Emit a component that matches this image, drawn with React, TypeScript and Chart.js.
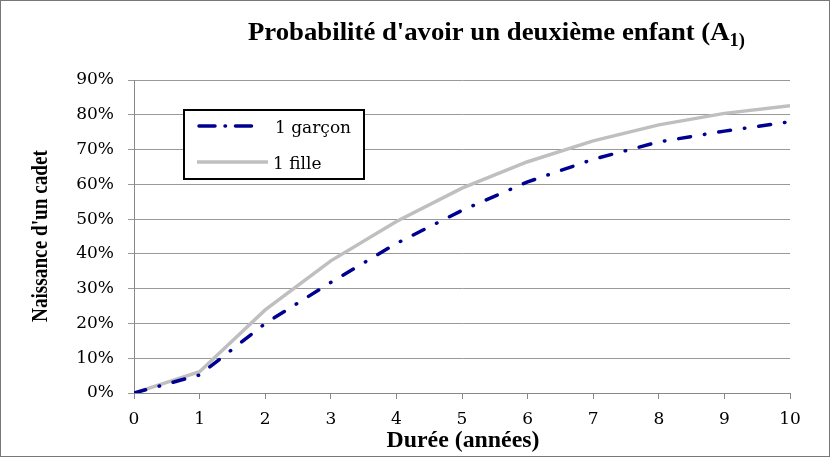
import React, { useEffect, useRef } from "react";
import { Chart, registerables } from "chart.js";

Chart.register(...registerables);

const years = [0, 1, 2, 3, 4, 5, 6, 7, 8, 9, 10];
const garcon = [0, 5.2, 20, 31.8, 43, 52.5, 60.7, 67.2, 72.2, 75.3, 78];
const fille = [0, 6.1, 23.9, 38, 49.3, 58.9, 66.5, 72.5, 77.1, 80.4, 82.6];
const titleMain = "Probabilité d'avoir un deuxième enfant (A";
const titleSub = "1)";
const xTitle = "Durée (années)";
const yTitle = "Naissance d'un cadet";
const seriesNames = ["1 garçon", "1 fille"];

const SERIF = "'Liberation Serif', 'Times New Roman', serif";
const TICKF = "'DejaVu Serif', serif";
const NAVY = "#000090";
const GREY = "#bfbfbf";

function condensedText(ctx: any, text: string, font: string, cx: number, baseY: number, targetW: number) {
  ctx.font = font;
  const w = ctx.measureText(text).width;
  const sx = targetW / w;
  ctx.save();
  ctx.translate(cx, baseY);
  ctx.scale(sx, 1);
  ctx.textAlign = "center";
  ctx.textBaseline = "alphabetic";
  ctx.fillText(text, 0, 0);
  ctx.restore();
}

const overlay = {
  id: "overlay",
  afterDraw(chart: any) {
    const ctx = chart.ctx;
    ctx.save();
    ctx.strokeStyle = "#777";
    ctx.lineWidth = 1;
    ctx.strokeRect(0.5, 0.5, chart.width - 1, chart.height - 1);
    ctx.fillStyle = "#000";
    ctx.font = `bold 26px ${SERIF}`;
    const w1 = ctx.measureText(titleMain).width;
    ctx.font = `bold 18px ${SERIF}`;
    const w2 = ctx.measureText(titleSub).width;
    const total = w1 + w2;
    const target = 497;
    const sx = target / total;
    ctx.save();
    ctx.translate(248, 40);
    ctx.scale(sx, 1);
    ctx.textAlign = "left";
    ctx.textBaseline = "alphabetic";
    ctx.font = `bold 26px ${SERIF}`;
    ctx.fillText(titleMain, 0, 0);
    ctx.font = `bold 18px ${SERIF}`;
    ctx.fillText(titleSub, w1, 6);
    ctx.restore();
    condensedText(ctx, xTitle, `bold 24px ${SERIF}`, 463, 447, 153);
    ctx.save();
    ctx.translate(47, 236);
    ctx.rotate(-Math.PI / 2);
    condensedText(ctx, yTitle, `bold 24px ${SERIF}`, 0, 0, 172);
    ctx.restore();
    const lx = 184, ly = 110, lw = 180, lh = 69;
    ctx.fillStyle = "#fff";
    ctx.fillRect(lx, ly, lw, lh);
    ctx.strokeStyle = "#000";
    ctx.lineWidth = 2;
    ctx.strokeRect(lx, ly, lw, lh);
    ctx.lineWidth = 3.5;
    ctx.strokeStyle = NAVY;
    ctx.lineCap = "round";
    ctx.setLineDash([16, 10, 0.5, 10]);
    ctx.beginPath();
    ctx.moveTo(199, 126);
    ctx.lineTo(254, 126);
    ctx.stroke();
    ctx.setLineDash([]);
    ctx.lineCap = "butt";
    ctx.strokeStyle = GREY;
    ctx.beginPath();
    ctx.moveTo(197, 162);
    ctx.lineTo(268, 162);
    ctx.stroke();
    ctx.fillStyle = "#000";
    ctx.font = `17px ${TICKF}`;
    ctx.textAlign = "left";
    ctx.textBaseline = "alphabetic";
    ctx.fillText(seriesNames[0], 275, 133);
    ctx.fillText(seriesNames[1], 273, 169);
    ctx.restore();
  },
};

export default function App() {
  const ref = useRef<HTMLCanvasElement>(null);
  useEffect(() => {
    document.body.style.margin = "0";
    const chart = new Chart(ref.current!, {
      type: "line",
      data: {
        labels: years,
        datasets: [
          {
            label: seriesNames[0],
            data: garcon,
            borderColor: NAVY,
            borderWidth: 3.5,
            borderDash: [12, 14, 0.5, 14],
            borderCapStyle: "round",
            pointRadius: 0,
            tension: 0,
          },
          {
            label: seriesNames[1],
            data: fille,
            borderColor: GREY,
            borderWidth: 3.5,
            pointRadius: 0,
            tension: 0,
          },
        ],
      },
      options: {
        animation: false,
        responsive: false,
        layout: { padding: { left: 0, right: 40, top: 80, bottom: 0 } },
        plugins: { legend: { display: false }, tooltip: { enabled: false }, title: { display: false } },
        scales: {
          x: {
            type: "linear",
            min: 0,
            max: 10,
            afterFit: (s: any) => { s.height = 64; },
            ticks: { stepSize: 1, color: "#000", font: { family: TICKF, size: 17 }, padding: 10, maxRotation: 0 },
            grid: { display: true, drawOnChartArea: false, drawTicks: true, tickLength: 6, color: "#888" },
            border: { color: "#888" },
          },
          y: {
            min: 0,
            max: 90,
            afterFit: (s: any) => { s.width = 134; },
            ticks: { stepSize: 10, color: "#000", font: { family: TICKF, size: 17 }, padding: 14, callback: (v: any) => v + "%" },
            grid: { color: "#999", tickLength: 6 },
            border: { color: "#888" },
          },
        },
      },
      plugins: [overlay],
    });
    return () => chart.destroy();
  }, []);
  return <canvas ref={ref} width={830} height={457} style={{ display: "block" }} />;
}
